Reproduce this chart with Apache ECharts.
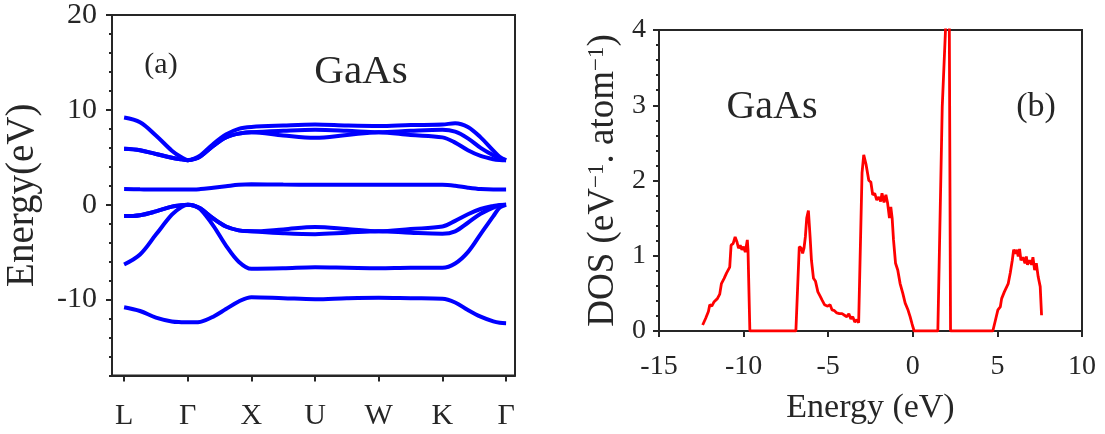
<!DOCTYPE html>
<html>
<head>
<meta charset="UTF-8">
<title>GaAs bands and DOS</title>
<script src="https://cdn.jsdelivr.net/npm/echarts@6/dist/echarts.min.js"></script>
</head>
<body style="margin:0;background:#fff">
<div id="chart" style="width:1105px;height:434px;"></div>
<script>
// k-path: high symmetry points
var kLabels = ['L', 'Γ', 'X', 'U', 'W', 'K', 'Γ'];
var kTicks = [0, 1, 2, 3, 4, 5, 6];
var energyTicks = [-10, 0, 10, 20];

// band energies (eV) sampled along the path at bandX
var bandX = [0, 0.25, 0.5, 0.75, 0.9, 1, 1.1, 1.2, 1.4, 1.6, 1.8, 2, 2.5, 3, 3.5, 4, 4.5, 5, 5.2, 5.4, 5.6, 5.8, 5.9, 6];
var band1 = [-10.8, -11.2, -11.9, -12.3, -12.38, -12.4, -12.4, -12.35, -11.8, -11.0, -10.2, -9.75, -9.85, -9.95, -9.85, -9.8, -9.85, -9.9, -10.3, -11.1, -11.8, -12.3, -12.45, -12.5];
var band2 = [-6.3, -5.25, -3.15, -1.05, -0.25, 0, -0.12, -0.5, -2.2, -4.3, -6.0, -6.75, -6.7, -6.6, -6.65, -6.7, -6.65, -6.65, -6.2, -5.0, -3.1, -1.2, -0.3, 0];
var band3 = [-1.2, -1.1, -0.7, -0.2, -0.05, 0, -0.1, -0.4, -1.45, -2.3, -2.7, -2.8, -2.6, -2.35, -2.55, -2.8, -2.55, -2.3, -1.7, -1.0, -0.45, -0.12, -0.02, 0];
var band4 = [-1.2, -1.1, -0.7, -0.2, -0.05, 0, -0.1, -0.4, -1.45, -2.3, -2.7, -2.8, -3.0, -3.1, -2.95, -2.8, -2.95, -3.05, -2.8, -1.9, -0.95, -0.3, -0.06, 0];
var band5 = [1.65, 1.62, 1.6, 1.6, 1.6, 1.6, 1.6, 1.65, 1.8, 1.95, 2.1, 2.15, 2.12, 2.1, 2.1, 2.1, 2.1, 2.1, 2.0, 1.8, 1.65, 1.6, 1.6, 1.6];
var band6 = [5.9, 5.75, 5.35, 4.95, 4.78, 4.7, 4.8, 5.1, 6.2, 7.1, 7.5, 7.65, 7.8, 7.9, 7.8, 7.65, 7.8, 7.9, 7.7, 7.0, 6.0, 5.2, 4.85, 4.7];
var band7 = [9.2, 8.7, 7.3, 5.7, 5.0, 4.7, 4.85, 5.2, 6.4, 7.4, 8.0, 8.2, 8.35, 8.45, 8.35, 8.3, 8.4, 8.45, 8.6, 8.2, 7.1, 5.7, 5.05, 4.7];
var band8 = [5.9, 5.75, 5.35, 4.95, 4.78, 4.7, 4.8, 5.1, 6.2, 7.1, 7.5, 7.65, 7.3, 7.05, 7.35, 7.65, 7.35, 7.1, 6.55, 5.75, 5.15, 4.8, 4.72, 4.7];
var bands = [band1, band2, band3, band4, band5, band6, band7, band8];

// total DOS
var dosE = [-12.42, -12.24, -12.08, -12.0, -11.88, -11.74, -11.55, -11.41, -11.31, -11.15, -11.01, -10.9, -10.82, -10.74, -10.62, -10.5, -10.4, -10.3, -10.2, -10.1, -10.0, -9.9, -9.78, -9.74, -9.63,
  -6.91, -6.71, -6.59, -6.51, -6.43, -6.35, -6.27, -6.17, -6.07, -5.99, -5.87, -5.75, -5.61, -5.47, -5.36, -5.22, -5.12, -5.03, -4.89, -4.77, -4.63, -4.49, -4.34, -4.18, -4.04, -3.9, -3.78, -3.66, -3.55, -3.43, -3.31, -3.2, -3.12,
  -3.0, -2.9, -2.76, -2.6, -2.48, -2.37, -2.25, -2.13, -2.01, -1.9, -1.82, -1.7, -1.59, -1.49, -1.44, -1.38, -1.3, -1.22, -1.14, -1.02, -0.89, -0.75, -0.59, -0.45, -0.3, -0.16, -0.04, 0.08,
  1.48, 1.74, 2.14, 2.23,
  4.73, 4.89, 5.03, 5.17, 5.25, 5.33, 5.41, 5.52, 5.64, 5.76, 5.88, 5.96, 6.08, 6.15, 6.23, 6.31, 6.39, 6.51, 6.63, 6.71, 6.78, 6.9, 7.02, 7.1, 7.2, 7.3, 7.41, 7.53, 7.61];
var dosV = [0.08, 0.17, 0.26, 0.35, 0.33, 0.39, 0.43, 0.49, 0.63, 0.70, 0.77, 0.75, 0.85, 1.14, 1.16, 1.25, 1.19, 1.10, 1.14, 1.08, 1.12, 1.05, 1.21, 1.08, 0,
  0, 1.12, 1.10, 1.03, 1.10, 1.25, 1.50, 1.60, 1.25, 0.94, 0.70, 0.66, 0.52, 0.46, 0.41, 0.35, 0.37, 0.33, 0.35, 0.28, 0.27, 0.24, 0.23, 0.23, 0.21, 0.19, 0.23, 0.16, 0.19, 0.12, 0.15, 0.11, 0.12,
  2.10, 2.34, 2.21, 2.0, 1.98, 1.81, 1.83, 1.74, 1.78, 1.72, 1.83, 1.71, 1.81, 1.70, 1.72, 1.50, 1.65, 1.50, 1.21, 0.90, 0.81, 0.63, 0.50, 0.37, 0.29, 0.19, 0.09, 0,
  0, 2.98, 5.1, 0,
  0, 0.15, 0.28, 0.32, 0.43, 0.41, 0.52, 0.54, 0.63, 0.77, 0.94, 1.08, 1.03, 1.08, 0.99, 1.09, 0.94, 0.98, 0.90, 0.99, 0.88, 0.94, 0.88, 0.98, 0.81, 0.90, 0.72, 0.59, 0.21];

var FONT = '"Liberation Serif", "Times New Roman", serif';
var INK = '#262626';

var chart = echarts.init(document.getElementById('chart'));

var series = bands.map(function (b) {
  return {
    type: 'line', xAxisIndex: 0, yAxisIndex: 0,
    data: bandX.map(function (x, i) { return [x, b[i]]; }),
    smooth: 0.35, showSymbol: false,
    lineStyle: { color: '#0000ff', width: 4 }
  };
});
series.push({
  type: 'line', xAxisIndex: 1, yAxisIndex: 2,
  data: dosE.map(function (e, i) { return [e, dosV[i]]; }),
  showSymbol: false, clip: true,
  lineStyle: { color: '#ff0000', width: 2.8 }
});

var option = {
  animation: false,
  textStyle: { fontFamily: FONT, color: INK },
  grid: [
    { left: 112, top: 13.5, width: 403, height: 362, show: true, borderColor: INK, borderWidth: 2 },
    { left: 659, top: 30, width: 423, height: 301, show: true, borderColor: INK, borderWidth: 2 }
  ],
  xAxis: [
    {
      type: 'value', gridIndex: 0, min: -0.19, max: 6.14,
      axisLine: { onZero: false, lineStyle: { color: INK, width: 2 } },
      axisTick: { customValues: kTicks, length: 6, lineStyle: { color: INK, width: 2 } },
      axisLabel: {
        customValues: kTicks, margin: 26, fontSize: 30, fontFamily: FONT, color: INK,
        formatter: function (v) { return kLabels[Math.round(v)]; }
      },
      splitLine: { show: false }
    },
    {
      type: 'value', gridIndex: 1, min: -15, max: 10, interval: 5,
      name: 'Energy (eV)', nameLocation: 'middle', nameGap: 60,
      nameTextStyle: { fontSize: 34, fontFamily: FONT, color: INK },
      axisLine: { onZero: false, lineStyle: { color: INK, width: 2 } },
      axisTick: { length: 6, lineStyle: { color: INK, width: 2 } },
      axisLabel: { margin: 22, fontSize: 28, fontFamily: FONT, color: INK },
      splitLine: { show: false }
    }
  ],
  yAxis: [
    {
      type: 'value', gridIndex: 0, min: -18, max: 20, interval: 2, position: 'left',
      axisLine: { show: true, onZero: false, lineStyle: { color: INK, width: 2 } },
      axisTick: { length: 3, lineStyle: { color: INK, width: 2 } },
      axisLabel: { show: false },
      splitLine: { show: false }
    },
    {
      type: 'value', gridIndex: 0, min: -18, max: 20, position: 'left',
      name: 'Energy(eV)', nameLocation: 'middle', nameGap: 70, nameRotate: 90,
      nameTextStyle: { fontSize: 39, fontFamily: FONT, color: INK },
      axisLine: { show: false, onZero: false },
      axisTick: { show: true, customValues: energyTicks, length: 6, lineStyle: { color: INK, width: 2 } },
      axisLabel: { customValues: energyTicks, margin: 15, fontSize: 30, fontFamily: FONT, color: INK },
      splitLine: { show: false }
    },
    {
      type: 'value', gridIndex: 1, min: 0, max: 4, interval: 1,
      name: 'DOS (eV{s|−1}. atom{s|−1})', nameLocation: 'middle', nameGap: 37, nameRotate: 90,
      nameTextStyle: {
        fontSize: 37, fontFamily: FONT, color: INK,
        rich: { s: { fontSize: 23, fontFamily: FONT, color: INK, verticalAlign: 'top' } }
      },
      axisLine: { show: true, onZero: false, lineStyle: { color: INK, width: 2 } },
      axisTick: { length: 6, lineStyle: { color: INK, width: 2 } },
      minorTick: { show: true, splitNumber: 5, length: 3, lineStyle: { color: INK, width: 2 } },
      axisLabel: { margin: 13, fontSize: 28, fontFamily: FONT, color: INK },
      splitLine: { show: false }
    }
  ],
  graphic: [
    { type: 'text', x: 161, y: 65, style: { text: '(a)', font: '30px ' + FONT, fill: INK, textAlign: 'center', textVerticalAlign: 'middle' } },
    { type: 'text', x: 361, y: 72, style: { text: 'GaAs', font: '41px ' + FONT, fill: INK, textAlign: 'center', textVerticalAlign: 'middle' } },
    { type: 'text', x: 772, y: 107, style: { text: 'GaAs', font: '40px ' + FONT, fill: INK, textAlign: 'center', textVerticalAlign: 'middle' } },
    { type: 'text', x: 1036, y: 107, style: { text: '(b)', font: '34px ' + FONT, fill: INK, textAlign: 'center', textVerticalAlign: 'middle' } }
  ],
  series: series
};

chart.setOption(option);
</script>
</body>
</html>
